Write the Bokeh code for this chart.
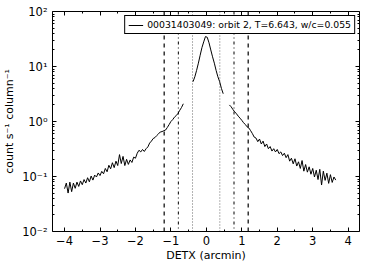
from bokeh.plotting import figure
from bokeh.models import (LinearAxis, LogAxis, FixedTicker, CustomJSTickFormatter,
                          Span, Legend, LegendItem, Range1d)
from bokeh.embed import file_html
from bokeh.resources import INLINE

# ---- data ----
left_x = [-4.00, -3.95, -3.90, -3.85, -3.80, -3.75, -3.70, -3.65, -3.60, -3.55,
          -3.50, -3.45, -3.40, -3.35, -3.30, -3.25, -3.20, -3.15, -3.10, -3.05,
          -3.00, -2.95, -2.90, -2.85, -2.80, -2.75, -2.70, -2.65, -2.60, -2.55,
          -2.50, -2.45, -2.40, -2.35, -2.30, -2.25, -2.20, -2.15, -2.10, -2.05,
          -2.00, -1.95, -1.90, -1.85, -1.80, -1.75, -1.70, -1.65, -1.60, -1.55,
          -1.50, -1.45, -1.40, -1.35, -1.30, -1.25, -1.20, -1.15, -1.10, -1.05,
          -1.00, -0.95, -0.90, -0.85, -0.80, -0.75, -0.70, -0.65]
left_y = [0.060, 0.076, 0.050, 0.079, 0.053, 0.076, 0.061, 0.079, 0.066, 0.083,
          0.071, 0.088, 0.076, 0.095, 0.080, 0.102, 0.086, 0.106, 0.098, 0.116,
          0.104, 0.124, 0.112, 0.140, 0.122, 0.160, 0.138, 0.178, 0.145, 0.190,
          0.158, 0.250, 0.172, 0.232, 0.158, 0.205, 0.166, 0.200, 0.180, 0.225,
          0.215, 0.265, 0.300, 0.280, 0.310, 0.285, 0.320, 0.345, 0.405, 0.440,
          0.490, 0.510, 0.555, 0.595, 0.645, 0.655, 0.680, 0.700, 0.780, 0.880,
          1.000, 1.080, 1.200, 1.280, 1.400, 1.600, 1.800, 2.100]

core_x = [-0.375, -0.325, -0.275, -0.225, -0.175, -0.125, -0.075, -0.025, 0.025,
          0.075, 0.125, 0.175, 0.225, 0.275, 0.325, 0.375, 0.425, 0.475]
core_y = [5.3, 6.5, 8.5, 11.5, 16.0, 22.0, 28.0, 35.0, 34.0,
          27.0, 20.0, 15.0, 11.5, 8.5, 6.5, 5.3, 4.0, 3.2]

right_x = [0.65, 0.70, 0.75, 0.80, 0.85, 0.90, 0.95, 1.00, 1.05, 1.10,
           1.15, 1.20, 1.25, 1.30, 1.35, 1.40, 1.45, 1.50, 1.55, 1.60,
           1.65, 1.70, 1.75, 1.80, 1.85, 1.90, 1.95, 2.00, 2.05, 2.10,
           2.15, 2.20, 2.25, 2.30, 2.35, 2.40, 2.45, 2.50, 2.55, 2.60,
           2.65, 2.70, 2.75, 2.80, 2.85, 2.90, 2.95, 3.00, 3.05, 3.10,
           3.15, 3.20, 3.25, 3.30, 3.35, 3.40, 3.45, 3.50, 3.55, 3.60, 3.65]
right_y = [2.00, 1.85, 1.65, 1.50, 1.38, 1.25, 1.15, 1.05, 0.95, 0.88,
           0.80, 0.76, 0.68, 0.60, 0.52, 0.50, 0.43, 0.48, 0.39, 0.44,
           0.35, 0.39, 0.32, 0.35, 0.29, 0.32, 0.28, 0.31, 0.26, 0.28,
           0.24, 0.265, 0.22, 0.25, 0.19, 0.215, 0.17, 0.21, 0.155, 0.185,
           0.14, 0.195, 0.125, 0.165, 0.12, 0.15, 0.11, 0.14, 0.098, 0.13,
           0.088, 0.135, 0.070, 0.125, 0.085, 0.115, 0.075, 0.108, 0.078, 0.098, 0.086]

outer_edges = [-1.19, 1.18]     # dashed
mid_edges = [-0.79, 0.78]       # dash-dot
inner_edges = [-0.39, 0.38]     # dotted

x_ticks = [-4, -3, -2, -1, 0, 1, 2, 3, 4]
y_ticks = [0.01, 0.1, 1, 10, 100]
legend_label = "00031403049: orbit 2, T=6.643, w/c=0.055"

FONT = "DejaVu Sans"

p = figure(frame_width=307, frame_height=220, y_axis_type="log",
           x_range=Range1d(-4.34, 4.32), y_range=Range1d(0.01, 100),
           output_backend="svg", toolbar_location=None,
           min_border_left=48, min_border_right=3, min_border_top=11,
           min_border_bottom=33)
p.grid.visible = False
p.outline_line_color = "black"
p.outline_line_width = 1
p.background_fill_color = "white"
p.border_fill_color = "white"

x_minor = [t + 0.5 for t in range(-5, 5)]
y_minor = [m * 10.0 ** e for e in range(-2, 2) for m in range(2, 10)]
xt = FixedTicker(ticks=x_ticks, minor_ticks=x_minor)
yt = FixedTicker(ticks=y_ticks, minor_ticks=y_minor)

xfmt = CustomJSTickFormatter(code="return tick < 0 ? '\u2212' + Math.abs(tick) : String(tick);")
yfmt = CustomJSTickFormatter(code="""
const m = {'-':'\u207b','0':'\u2070','1':'\u00b9','2':'\u00b2','3':'\u00b3'};
const e = Math.round(Math.log10(tick));
return '10' + String(e).split('').map(c => m[c]).join('');
""")

def style(ax, labels=True):
    ax.major_tick_in = 4
    ax.major_tick_out = 0
    ax.minor_tick_in = 2
    ax.minor_tick_out = 0
    ax.major_tick_line_color = "black"
    ax.minor_tick_line_color = "black"
    ax.axis_line_color = None
    if labels:
        ax.major_label_text_font = FONT
        ax.major_label_text_font_size = "11.5px"
        ax.major_label_text_color = "black"
        ax.axis_label_text_font = FONT
        ax.axis_label_text_font_size = "11px"
        ax.axis_label_text_font_style = "normal"
        ax.axis_label_text_color = "black"
    else:
        ax.major_label_text_font_size = "0px"
        ax.major_label_standoff = 0
        ax.axis_label_standoff = 0

xa = p.xaxis[0]
xa.ticker = xt
xa.formatter = xfmt
xa.axis_label = "DETX (arcmin)"
style(xa)
xa.major_label_standoff = 4
xa.axis_label_standoff = 1

ya = p.yaxis[0]
ya.ticker = yt
ya.formatter = yfmt
ya.axis_label = "count s\u207b\u00b9 column\u207b\u00b9"
style(ya)
ya.major_label_standoff = 5
ya.axis_label_standoff = 3

top = LinearAxis(ticker=xt, formatter=CustomJSTickFormatter(code="return '';"))
style(top, labels=False)
p.add_layout(top, "above")
right = LogAxis(ticker=yt, formatter=CustomJSTickFormatter(code="return '';"))
style(right, labels=False)
p.add_layout(right, "right")

for loc in outer_edges:
    p.add_layout(Span(location=loc, dimension="height", line_color="black",
                      line_width=1.2, line_dash="4 4"))
for loc in mid_edges:
    p.add_layout(Span(location=loc, dimension="height", line_color="black",
                      line_width=1, line_dash="3 3 1 3"))
for loc in inner_edges:
    p.add_layout(Span(location=loc, dimension="height", line_color="black",
                      line_alpha=0.6, line_width=1, line_dash="1 2"))

r1 = p.line(left_x, left_y, line_color="black", line_width=1)
r2 = p.line(core_x, core_y, line_color="black", line_width=1)
r3 = p.line(right_x, right_y, line_color="black", line_width=1)

legend = Legend(items=[LegendItem(label=legend_label, renderers=[r1])],
                location="top_right", margin=4, padding=3, spacing=0,
                glyph_width=15, glyph_height=10, label_standoff=4,
                label_text_font=FONT, label_text_font_size="9.3px",
                label_height=10, label_text_color="black",
                border_line_color="black", border_line_width=1, border_line_alpha=1,
                background_fill_color="white", background_fill_alpha=1)
p.add_layout(legend)

open("out.html", "w").write(file_html(p, INLINE))
